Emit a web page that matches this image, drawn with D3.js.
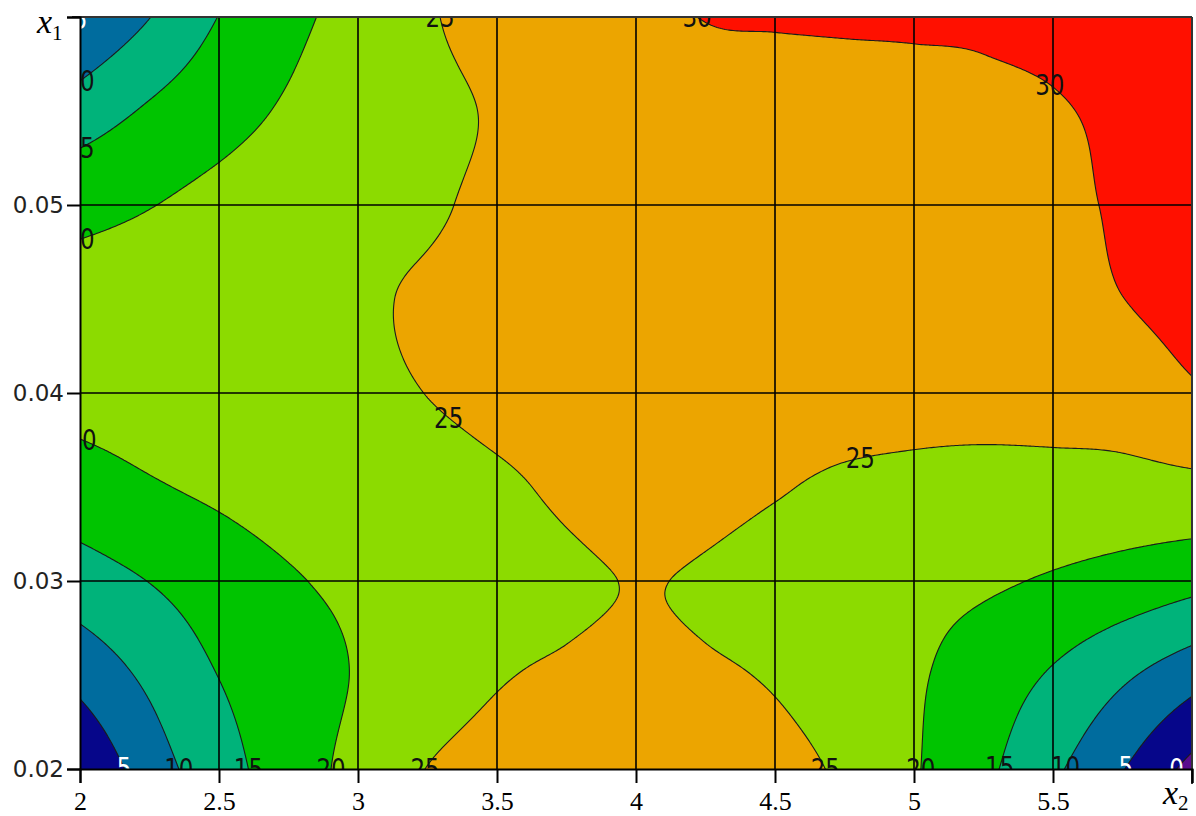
<!DOCTYPE html>
<html><head><meta charset="utf-8">
<script src="https://cdn.jsdelivr.net/npm/d3@7"></script>
<style>body{margin:0;background:#fff;} svg{display:block}</style>
</head><body><svg id="chart" width="1196" height="816"></svg>
<script>
// ---- data ----
const x2Values = [2, 2.25, 2.5, 2.75, 3, 3.25, 3.5, 3.75, 4, 4.25, 4.5, 4.75, 5, 5.25, 5.5, 5.75, 6];
const x1Values = [0.02, 0.025, 0.03, 0.035, 0.04, 0.045, 0.05, 0.055, 0.06];
// one row per x1 value (bottom to top), one column per x2 value
const zRow020 = [0.2, 7.5, 13.0, 17.5, 21.5, 25.1, 26.9, 27.8, 28.0, 27.7, 26.6, 24.2, 20.4, 16.1, 10.9, 5.2, -1.5];
const zRow025 = [6.6, 11.0, 15.1, 17.8, 20.3, 22.6, 24.69, 25.39, 25.62, 25.37, 24.65, 22.7, 20.6, 17.7, 14.5, 10.8, 7.0];
const zRow030 = [12.7, 15.1, 17.5, 19.55, 21.05, 22.6, 24.0, 24.74, 25.03, 24.84, 24.15, 23.0, 21.6, 20.7, 19.5, 18.1, 16.5];
const zRow035 = [17.9, 19.57, 20.8, 22.0, 22.8, 23.5, 24.51, 25.41, 25.84, 25.79, 25.25, 24.4, 24.0, 23.7, 23.45, 23.4, 23.75];
const zRow040 = [21.4, 21.96, 22.7, 23.4, 24.2, 25.05, 26.0, 26.8, 27.4, 27.6, 27.3, 26.8, 26.4, 26.4, 26.8, 27.4, 29.4];
const zRow045 = [21.6, 22.06, 22.86, 23.65, 24.6, 25.35, 26.2, 27.1, 27.9, 28.1, 27.9, 27.8, 27.8, 28.0, 28.2, 29.95, 31.5];
const zRow050 = [18.5, 19.85, 21.3, 22.7, 24.0, 24.6, 25.8, 27.3, 28.4, 28.6, 28.6, 28.7, 28.8, 29.0, 29.1, 30.6, 32.6];
const zRow055 = [12.3, 15.6, 18.2, 20.6, 23.0, 24.2, 25.4, 27.5, 28.9, 29.2, 29.25, 29.35, 29.4, 29.45, 29.7, 31.0, 33.5];
const zRow060 = [4.85, 9.9, 15.1, 18.7, 21.8, 24.6, 26.5, 28.2, 29.4, 30.05, 30.15, 30.2, 30.25, 30.4, 31.1, 32.3, 34.0];
const zRows = [zRow020, zRow025, zRow030, zRow035, zRow040, zRow045, zRow050, zRow055, zRow060];

const levels = [0, 5, 10, 15, 20, 25, 30];
const bandColors = ["#5a0b8e", "#06068a", "#006c9e", "#00b37a", "#00c400", "#8cdb00", "#eca500", "#ff1000"];
const xTicks = [2, 2.5, 3, 3.5, 4, 4.5, 5, 5.5, 6];
const xTickLabels = ["2", "2.5", "3", "3.5", "4", "4.5", "5", "5.5", ""];
const yTicks = [0.02, 0.03, 0.04, 0.05, 0.06];
const yTickLabels = ["0.02", "0.03", "0.04", "0.05", ""];
// contour labels: level, approximate position (x2, x1), white text?
const labelLevels = [5, 10, 15, 20, 20, 5, 10, 15, 20, 25, 25, 25, 30, 30, 25, 25, 20, 15, 10, 5, 0];
const labelX2 = [2.0, 2.0, 2.0, 2.0, 2.0, 2.15, 2.37, 2.61, 2.88, 3.24, 3.33, 3.29, 4.15, 5.51, 4.81, 4.73, 5.05, 5.33, 5.56, 5.77, 5.95];
const labelX1 = [0.06, 0.0567, 0.053, 0.0482, 0.0373, 0.02, 0.02, 0.02, 0.02, 0.02, 0.0388, 0.06, 0.06, 0.0568, 0.0363, 0.02, 0.02, 0.02, 0.02, 0.02, 0.02];
const labelWhite = [1, 0, 0, 0, 0, 1, 0, 0, 0, 0, 0, 0, 0, 0, 0, 0, 0, 0, 0, 1, 1];

// ---- layout ----
const svg = d3.select("#chart");
const L = 80, R = 1192, T = 17, B = 769;
const xScale = d3.scaleLinear().domain([2, 6]).range([L, R]);
const yScale = d3.scaleLinear().domain([0.02, 0.06]).range([B, T]);

// ---- smooth rendering grid (Catmull-Rom through the read values) ----
const nCol = x2Values.length, nRow = x1Values.length;
function g(i, j) {
  if (i < 0) return 2 * g(0, j) - g(1, j);
  if (i > nCol - 1) return 2 * g(nCol - 1, j) - g(nCol - 2, j);
  if (j < 0) return 2 * g(i, 0) - g(i, 1);
  if (j > nRow - 1) return 2 * g(i, nRow - 1) - g(i, nRow - 2);
  return zRows[j][i];
}
function cr(p0, p1, p2, p3, t) {
  return 0.5 * (2 * p1 + (-p0 + p2) * t + (2 * p0 - 5 * p1 + 4 * p2 - p3) * t * t + (-p0 + 3 * p1 - 3 * p2 + p3) * t * t * t);
}
const dX2 = x2Values[1] - x2Values[0], dX1 = x1Values[1] - x1Values[0];
function surf(x2, x1) {
  const u = (x2 - x2Values[0]) / dX2, v = (x1 - x1Values[0]) / dX1;
  const i = Math.min(Math.max(Math.floor(u), 0), nCol - 2), j = Math.min(Math.max(Math.floor(v), 0), nRow - 2);
  const tu = u - i, tv = v - j;
  const rows = [];
  for (let k = -1; k <= 2; k++) rows.push(cr(g(i - 1, j + k), g(i, j + k), g(i + 1, j + k), g(i + 2, j + k), tu));
  return cr(rows[0], rows[1], rows[2], rows[3], tv);
}
const nx = 556, ny = 376;
const x2Min = x2Values[0], x2Max = x2Values[nCol - 1], x1Min = x1Values[0], x1Max = x1Values[nRow - 1];
const grid = new Float64Array(nx * ny);
for (let jj = 0; jj < ny; jj++) {
  const x1 = x1Max - (x1Max - x1Min) * jj / (ny - 1);
  for (let ii = 0; ii < nx; ii++) {
    const x2 = x2Min + (x2Max - x2Min) * ii / (nx - 1);
    grid[jj * nx + ii] = surf(x2, x1);
  }
}
const contours = d3.contours().size([nx, ny]).thresholds(levels)(grid);
const gx2 = gx => x2Min + (x2Max - x2Min) * (gx - 0.5) / (nx - 1);
const gx1 = gy => x1Max - (x1Max - x1Min) * (gy - 0.5) / (ny - 1);
const proj = d3.geoTransform({ point: function (x, y) { this.stream.point(xScale(gx2(x)), yScale(gx1(y))); } });
const path = d3.geoPath(proj);

svg.append("clipPath").attr("id", "plotclip").append("rect")
  .attr("x", L).attr("y", T).attr("width", R - L).attr("height", B - T);
const plot = svg.append("g").attr("clip-path", "url(#plotclip)");

plot.append("rect").attr("x", L).attr("y", T).attr("width", R - L).attr("height", B - T).attr("fill", bandColors[0]);
plot.selectAll("path.band").data(contours).join("path").attr("class", "band")
  .attr("d", path).attr("fill", (d, k) => bandColors[k + 1]);
plot.selectAll("path.iso").data(contours).join("path").attr("class", "iso")
  .attr("d", path).attr("fill", "none").attr("stroke", "#1b1b1b").attr("stroke-width", 1.1);

// grid lines
plot.selectAll("line.gx").data(xTicks.slice(1, -1)).join("line").attr("class", "gx")
  .attr("x1", d => xScale(d)).attr("x2", d => xScale(d)).attr("y1", T).attr("y2", B)
  .attr("stroke", "#000").attr("stroke-width", 1.6);
plot.selectAll("line.gy").data(yTicks.slice(1, -1)).join("line").attr("class", "gy")
  .attr("y1", d => yScale(d)).attr("y2", d => yScale(d)).attr("x1", L).attr("x2", R)
  .attr("stroke", "#000").attr("stroke-width", 1.6);

// contour labels, snapped to the computed contour lines
const labelData = labelLevels.map((lv, k) => {
  const c = contours[levels.indexOf(lv)];
  const ax = xScale(labelX2[k]), ay = yScale(labelX1[k]);
  let best = null, bd = Infinity;
  c.coordinates.forEach(poly => poly.forEach(ring => ring.forEach(p => {
    if (p[0] <= 0.01 || p[0] >= nx - 0.01 || p[1] <= 0.01 || p[1] >= ny - 0.01) return;
    const px = xScale(gx2(p[0])), py = yScale(gx1(p[1]));
    const dd = (px - ax) ** 2 + (py - ay) ** 2;
    if (dd < bd) { bd = dd; best = [px, py]; }
  })));
  return { text: String(lv), pos: best || [ax, ay], white: labelWhite[k] };
});
plot.selectAll("text.clab").data(labelData).join("text").attr("class", "clab")
  .attr("transform", d => `translate(${d.pos[0]},${d.pos[1]}) scale(0.82,1)`)
  .attr("text-anchor", "middle").attr("dy", "0.36em")
  .attr("font-family", "DejaVu Sans, sans-serif").attr("font-size", 28)
  .attr("fill", d => d.white ? "#ffffff" : "#111")
  .text(d => d.text);

// border (top / right) with tick extensions
svg.append("line").attr("x1", L - 8).attr("x2", R).attr("y1", T).attr("y2", T).attr("stroke", "#333").attr("stroke-width", 2);
svg.append("line").attr("x1", R).attr("x2", R).attr("y1", T).attr("y2", B + 15).attr("stroke", "#333").attr("stroke-width", 2);

// axes
const xAxis = d3.axisBottom(xScale).tickValues(xTicks).tickSize(14).tickPadding(9)
  .tickFormat((d, k) => xTickLabels[k]);
const gxA = svg.append("g").attr("transform", `translate(0,${B})`).call(xAxis);
gxA.select(".domain").attr("stroke", "#000").attr("stroke-width", 2);
gxA.selectAll(".tick line").attr("stroke", "#000").attr("stroke-width", 2);
gxA.selectAll(".tick text").attr("font-family", "Liberation Serif, serif").attr("font-size", 26).attr("fill", "#000");

const yAxis = d3.axisLeft(yScale).tickValues(yTicks).tickSize(13).tickPadding(3)
  .tickFormat((d, k) => yTickLabels[k]);
const gyA = svg.append("g").attr("transform", `translate(${L},0)`).call(yAxis);
gyA.select(".domain").attr("stroke", "#000").attr("stroke-width", 2);
gyA.selectAll(".tick line").attr("stroke", "#000").attr("stroke-width", 2);
gyA.selectAll(".tick text").attr("font-family", "DejaVu Sans, sans-serif").attr("font-size", 23).attr("fill", "#222");

// axis titles
const t1 = svg.append("text").attr("x", 37).attr("y", 33).attr("font-family", "Liberation Serif, serif").attr("fill", "#000");
t1.append("tspan").attr("font-style", "italic").attr("font-size", 34).text("x");
t1.append("tspan").attr("font-size", 21).attr("dy", 7).text("1");
const t2 = svg.append("text").attr("x", 1163).attr("y", 804).attr("font-family", "Liberation Serif, serif").attr("fill", "#000");
t2.append("tspan").attr("font-style", "italic").attr("font-size", 34).text("x");
t2.append("tspan").attr("font-size", 21).attr("dy", 6).text("2");
</script>
</body></html>
